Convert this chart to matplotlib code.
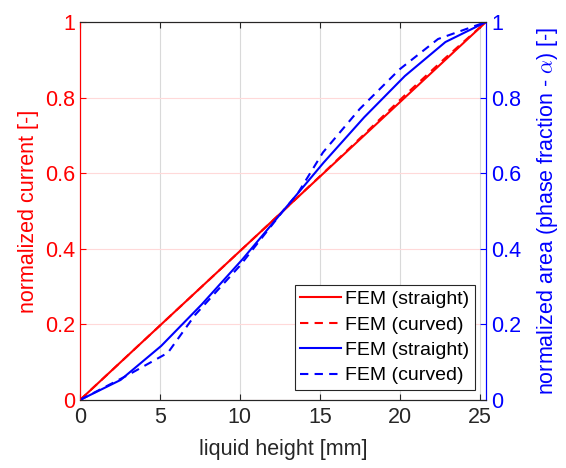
import numpy as np
import matplotlib
matplotlib.use('Agg')
import matplotlib.pyplot as plt

plt.rcParams['font.family'] = ['Liberation Sans', 'DejaVu Sans']
plt.rcParams['mathtext.fontset'] = 'cm'

# normalized current vs liquid height
h_cur = [0, 2.54, 5.08, 7.62, 10.16, 12.7, 15.24, 17.78, 20.32, 22.86, 25.4]
cur_straight = [0, 0.1, 0.2, 0.3, 0.4, 0.5, 0.6, 0.7, 0.8, 0.9, 1.0]
cur_curved = [0, 0.1, 0.2, 0.3, 0.4, 0.5, 0.601, 0.703, 0.806, 0.905, 1.0]

# normalized area (phase fraction)
h_area = [0, 2.54, 5.08, 7.62, 10.16, 12.7, 15.24, 17.78, 20.32, 22.86, 25.4]
area_straight = [0, 0.053, 0.143, 0.253, 0.372, 0.5, 0.628, 0.748, 0.857, 0.947, 1.0]
h_area_c = [0, 3.0, 5.5, 7.2, 10.0, 12.7, 13.6, 15.2, 17.5, 20.0, 22.4, 25.4]
area_curved = [0, 0.066, 0.125, 0.225, 0.355, 0.5, 0.545, 0.655, 0.77, 0.875, 0.955, 1.0]

fig = plt.figure(figsize=(5.66, 4.68), dpi=100)
ax = fig.add_axes([0.1413, 0.1453, 0.7174, 0.8077])
ax2 = ax.twinx()

l1, = ax.plot(h_cur, cur_straight, color='red', lw=1.5, label='FEM (straight)')
l2, = ax.plot(h_cur, cur_curved, color='red', lw=1.5, ls=(0, (4, 3)), label='FEM (curved)')
l3, = ax2.plot(h_area, area_straight, color='blue', lw=1.5, label='FEM (straight)')
l4, = ax2.plot(h_area_c, area_curved, color='blue', lw=1.5, ls=(0, (4, 3)), label='FEM (curved)')

ax.set_xlim(0, 25.4)
ax.set_ylim(0, 1)
ax2.set_ylim(0, 1)
ax.set_xticks([0, 5, 10, 15, 20, 25])
ax.set_yticks([0, 0.2, 0.4, 0.6, 0.8, 1])
ax2.set_yticks([0, 0.2, 0.4, 0.6, 0.8, 1])
ax.set_yticklabels(['0', '0.2', '0.4', '0.6', '0.8', '1'])
ax2.set_yticklabels(['0', '0.2', '0.4', '0.6', '0.8', '1'])

ax.grid(axis='x', color='0.85', lw=0.8)
ax.grid(axis='y', color=(1, 0.85, 0.85), lw=0.8)
ax.set_axisbelow(True)

fs = 15.5
ax.tick_params(axis='x', direction='in', top=True, colors='0.15', labelsize=fs, length=4, pad=5)
ax.tick_params(axis='y', direction='in', colors='red', labelsize=fs, length=4)
ax2.tick_params(axis='y', direction='in', colors='blue', labelsize=fs, length=4)

for a in (ax, ax2):
    a.spines['top'].set_color('0.15')
    a.spines['bottom'].set_color('0.15')
    a.spines['left'].set_color('red')
    a.spines['right'].set_color('blue')

ax.set_xlabel('liquid height [mm]', fontsize=fs, color='0.15', labelpad=8)
ax.set_ylabel('normalized current [-]', fontsize=fs, color='red', labelpad=4)
ax2.set_ylabel(r'normalized area (phase fraction - $\alpha$) [-]', fontsize=fs, color='blue', labelpad=10)

leg = ax2.legend(handles=[l1, l2, l3, l4], loc='lower right', bbox_to_anchor=(0.973, 0.026),
                 fontsize=14, fancybox=False, edgecolor='0.15', framealpha=1,
                 handlelength=2.1, handletextpad=0.2, labelspacing=0.4, borderpad=0.3,
                 borderaxespad=0)
leg.get_frame().set_linewidth(0.8)

fig.savefig('out.png', dpi=100)
